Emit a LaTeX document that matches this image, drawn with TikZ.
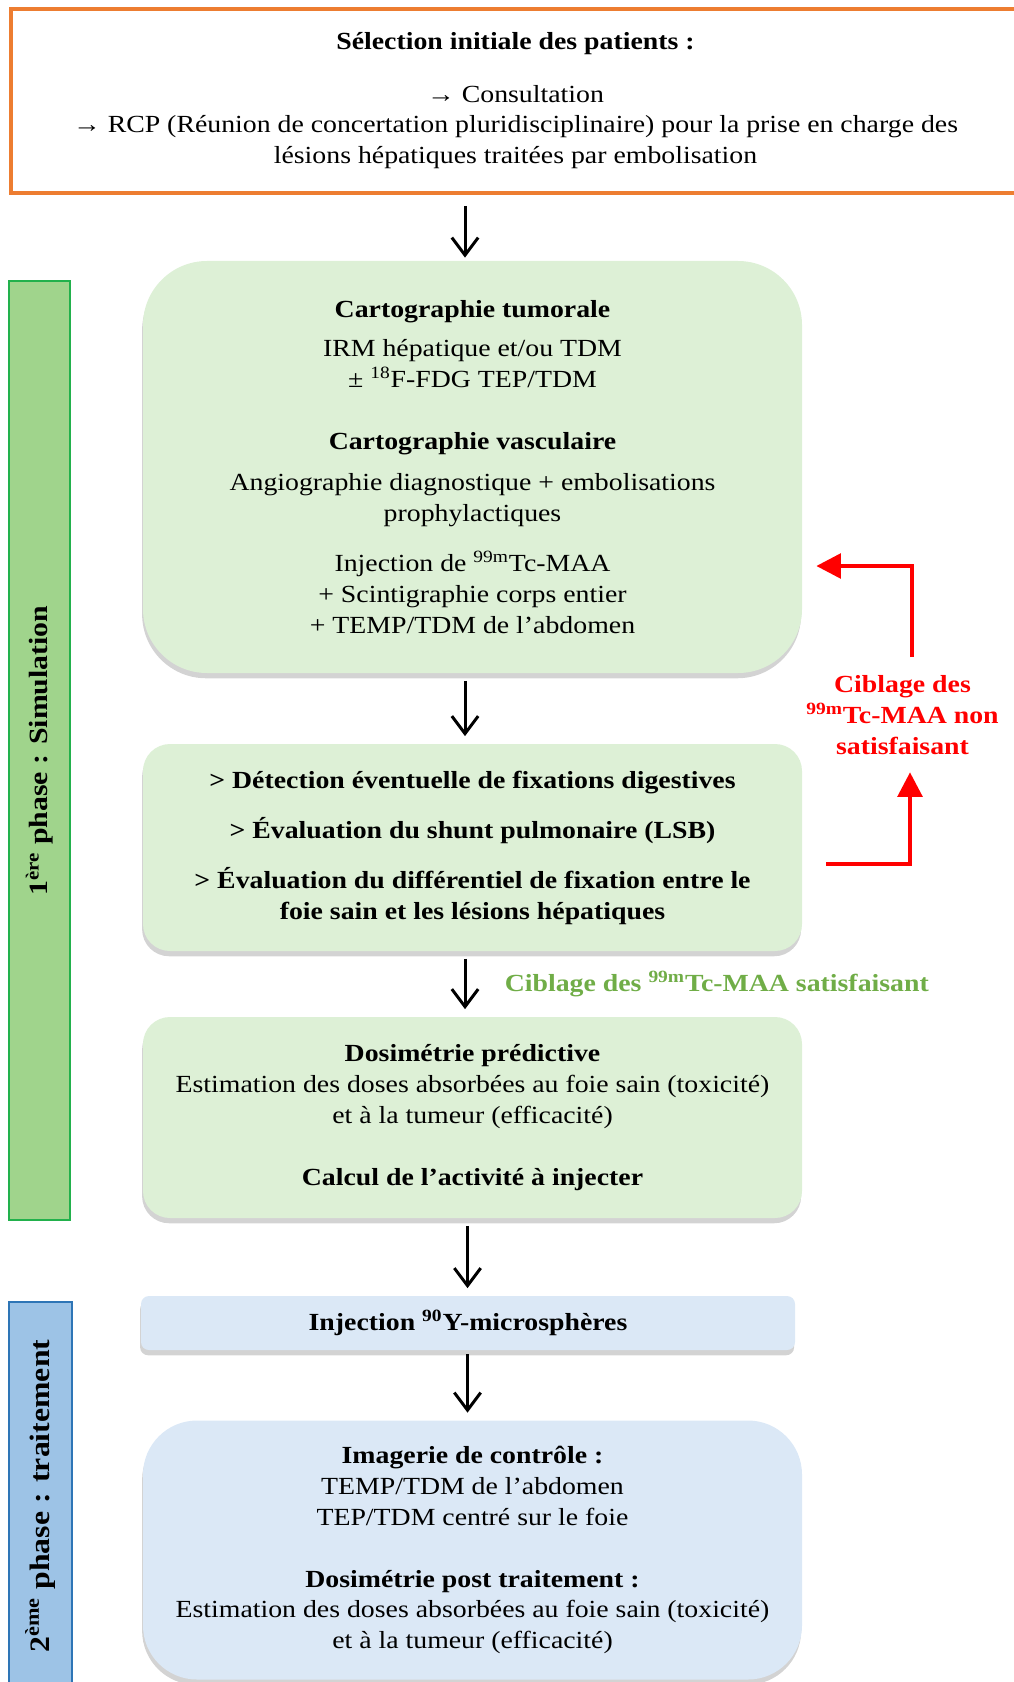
\documentclass[tikz,border=0pt]{standalone}
\usepackage{fontspec}
\setmainfont{Liberation Serif}[FakeStretch=1.13]
\usetikzlibrary{arrows.meta,positioning,calc,shadows}
\definecolor{cORG}{HTML}{ED7D31}
\definecolor{cBOX}{HTML}{DDF0D6}
\definecolor{cBAR}{HTML}{A0D48C}
\definecolor{cBARL}{HTML}{22B14C}
\definecolor{cBLU}{HTML}{DBE8F6}
\definecolor{cBLB}{HTML}{9DC3E6}
\definecolor{cBLL}{HTML}{2E75B6}
\definecolor{cOK}{HTML}{70AD47}
\definecolor{cNO}{HTML}{FF0000}

\begin{document}
\begin{tikzpicture}[font=\fontsize{14}{17.6}\selectfont, >=Stealth,
  stepbox/.style={rounded corners=#1, fill=cBOX, minimum width=13.18cm, align=center,
    drop shadow={shadow xshift=-0.5pt, shadow yshift=-3pt, opacity=0.35}},
  bluebox/.style={stepbox=#1, fill=cBLU},
  phasebar/.style={draw=cBARL, fill=cBAR, line width=0.8pt, rotate=90, minimum height=1.22cm, font=\fontsize{15}{18}\selectfont\bfseries},
  flow/.style={line width=1.7pt, -{Straight Barb[length=10pt,width=15pt]}, shorten <=0.15cm, shorten >=0.15cm},
  redline/.style={cNO, line width=2.3pt, -{Triangle[length=14pt,width=14pt]}}]
\useasboundingbox (0,0) rectangle (20.26,-33.64);

\node[draw=cORG, line width=2.2pt, minimum width=20.18cm, minimum height=3.68cm, align=center] (select) at (10.31,-2.02)
  {\textbf{Sélection initiale des patients :}\\[12pt]
   → Consultation\\
   → RCP (Réunion de concertation pluridisciplinaire) pour la prise en charge des\\
   lésions hépatiques traitées par embolisation};

\node[stepbox=1.28cm, minimum height=8.24cm] (carto) at (9.45,-9.34)
  {\textbf{Cartographie tumorale}\\[4.5pt]
   IRM hépatique et/ou TDM\\
   ± \textsuperscript{18}F-FDG TEP/TDM\\[17.6pt]
   \textbf{Cartographie vasculaire}\\[6pt]
   Angiographie diagnostique + embolisations\\
   prophylactiques\\[10.8pt]
   Injection de \textsuperscript{99m}Tc-MAA\\
   + Scintigraphie corps entier\\
   + TEMP/TDM de l'abdomen};

\node[stepbox=0.54cm, minimum height=4.14cm, font=\fontsize{14}{17.6}\selectfont\bfseries] (detect) at (9.45,-16.95)
  {> Détection éventuelle de fixations digestives\\[10.9pt]
   > Évaluation du shunt pulmonaire (LSB)\\[10.9pt]
   > Évaluation du différentiel de fixation entre le\\
   foie sain et les lésions hépatiques};

\node[stepbox=0.54cm, minimum height=4.02cm] (dosi) at (9.45,-22.35)
  {\textbf{Dosimétrie prédictive}\\
   Estimation des doses absorbées au foie sain (toxicité)\\
   et à la tumeur (efficacité)\\[17.6pt]
   \textbf{Calcul de l’activité à injecter}};

\node[bluebox=0.16cm, minimum width=13.08cm, minimum height=1.08cm] (inj) at (9.36,-26.46)
  {\textbf{Injection \textsuperscript{90}Y-microsphères}};

\node[bluebox=1.08cm, minimum height=5.18cm] (ctrl) at (9.45,-31.0)
  {\textbf{Imagerie de contrôle :}\\
   TEMP/TDM de l’abdomen\\
   TEP/TDM centré sur le foie\\[17.6pt]
   \textbf{Dosimétrie post traitement :}\\
   Estimation des doses absorbées au foie sain (toxicité)\\
   et à la tumeur (efficacité)};

\node[phasebar, minimum width=18.78cm] (phase1) at (0.79,-15.01) {1\textsuperscript{ère} phase : Simulation};
\node[phasebar, draw=cBLL, fill=cBLB, minimum width=7.76cm, minimum height=1.26cm, font=\fontsize{16}{19}\selectfont\bfseries] (phase2) at (0.81,-29.92) {2\textsuperscript{ème} phase : traitement};

\draw[flow, shorten <=0.22cm, shorten >=0.06cm] ([xshift=-0.15cm]select.south -| carto.north) -- ([xshift=-0.15cm]carto.north);
\draw[flow] ([xshift=-0.15cm]carto.south) -- ([xshift=-0.15cm]detect.north);
\draw[flow] ([xshift=-0.15cm]detect.south) -- ([xshift=-0.15cm]dosi.north) node[midway, right=0.65cm, cOK, font=\fontsize{14}{17.6}\selectfont\bfseries] (okmsg) {Ciblage des \textsuperscript{99m}Tc-MAA satisfaisant};
\draw[flow] ([xshift=-0.1cm]dosi.south) -- ([xshift=-0.1cm]inj.north -| dosi.south);
\draw[flow, shorten <=0.08cm] ([xshift=-0.1cm]inj.south -| ctrl.north) -- ([xshift=-0.1cm]ctrl.north);

\node[cNO, align=center, font=\fontsize{14}{17.6}\selectfont\bfseries] (nonsat) at (18.05,-14.31)
  {Ciblage des\\ \textsuperscript{99m}Tc-MAA non\\ satisfaisant};
\coordinate (back) at ([xshift=0.28cm,yshift=-1.98cm]carto.east);
\draw[redline] ([xshift=0.19cm,yshift=0.25cm]nonsat.north) |- (back);
\draw[redline] ([xshift=0.48cm,yshift=-0.33cm]detect.east) -| ([xshift=0.15cm,yshift=-0.22cm]nonsat.south);
\end{tikzpicture}
\end{document}
